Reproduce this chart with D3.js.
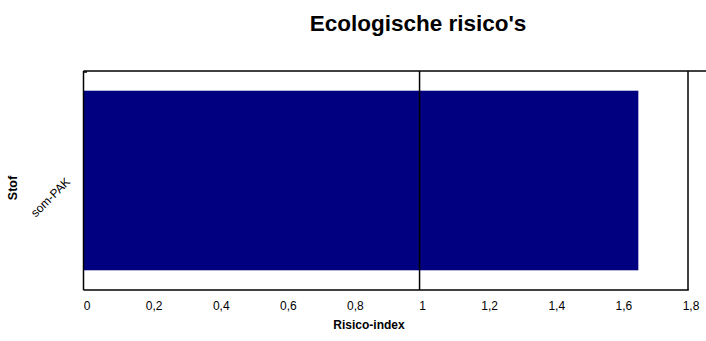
<!DOCTYPE html>
<html><head><meta charset="utf-8">
<script src="https://cdn.jsdelivr.net/npm/d3@7"></script>
<style>body{margin:0;background:#fff;}svg{display:block;}text{font-family:"Liberation Sans",Arial,sans-serif;}</style>
</head><body>
<script>
const categories = ["som-PAK"];
const values = [1.652];
const xTicks = [0, 0.2, 0.4, 0.6, 0.8, 1, 1.2, 1.4, 1.6, 1.8];
const refValue = 1;
const title = "Ecologische risico's";
const xLabel = "Risico-index";
const yLabel = "Stof";

const W = 706, H = 341;
const m = {left: 84, top: 71, right: 688, bottom: 290};
const svg = d3.select("body").append("svg").attr("width", W).attr("height", H);

const x = d3.scaleLinear().domain([0, 1.8]).range([m.left, m.right]);
const y = d3.scaleBand().domain(categories).range([m.top, m.bottom]).paddingInner(0.18).paddingOuter(0.09);

svg.selectAll("rect.bar").data(values).join("rect")
  .attr("x", x(0)).attr("y", (d, i) => y(categories[i]))
  .attr("width", d => x(d) - x(0)).attr("height", y.bandwidth())
  .attr("fill", "#000080");

// frame
svg.append("line").attr("x1", m.left - 0.5).attr("x2", W).attr("y1", m.top).attr("y2", m.top).attr("stroke", "#000").attr("stroke-width", 1.5);
svg.append("line").attr("x1", m.left - 0.5).attr("x2", m.right + 0.75).attr("y1", m.bottom).attr("y2", m.bottom).attr("stroke", "#000").attr("stroke-width", 1.5);
svg.append("line").attr("x1", m.left - 0.5).attr("x2", m.left - 0.5).attr("y1", m.top).attr("y2", m.bottom).attr("stroke", "#000").attr("stroke-width", 1.5);
svg.append("line").attr("x1", m.right).attr("x2", m.right).attr("y1", m.top).attr("y2", m.bottom).attr("stroke", "#000").attr("stroke-width", 1.5);
// small tick
svg.append("line").attr("x1", m.left).attr("x2", m.left + 3).attr("y1", m.top + 1).attr("y2", m.top + 1).attr("stroke", "#000").attr("stroke-width", 1.5);

// reference line
svg.append("line").attr("x1", x(refValue)).attr("x2", x(refValue)).attr("y1", m.top).attr("y2", m.bottom).attr("stroke", "#000").attr("stroke-width", 1.5);

// x tick labels
svg.selectAll("text.xt").data(xTicks).join("text")
  .attr("x", d => x(d) + 3).attr("y", 310)
  .attr("text-anchor", "middle").attr("font-size", "12px").attr("fill", "#000")
  .text(d => d3.format("~g")(d).replace(".", ","));

// category label
svg.selectAll("text.cat").data(categories).join("text")
  .attr("transform", (d) => `translate(71,${y(d) + y.bandwidth() / 2 + 2}) rotate(-45)`)
  .attr("text-anchor", "end").attr("font-size", "12px").attr("fill", "#000")
  .text(d => d);

// axis titles
svg.append("text").attr("x", 369).attr("y", 329).attr("text-anchor", "middle")
  .attr("font-size", "12px").attr("font-weight", "bold").text(xLabel);
svg.append("text").attr("transform", "translate(17,188) rotate(-90)").attr("text-anchor", "middle")
  .attr("font-size", "12.5px").attr("font-weight", "bold").text(yLabel);

svg.append("text").attr("x", 418).attr("y", 31).attr("text-anchor", "middle")
  .attr("font-size", "22.5px").attr("font-weight", "bold").text(title);
</script>
</body></html>
